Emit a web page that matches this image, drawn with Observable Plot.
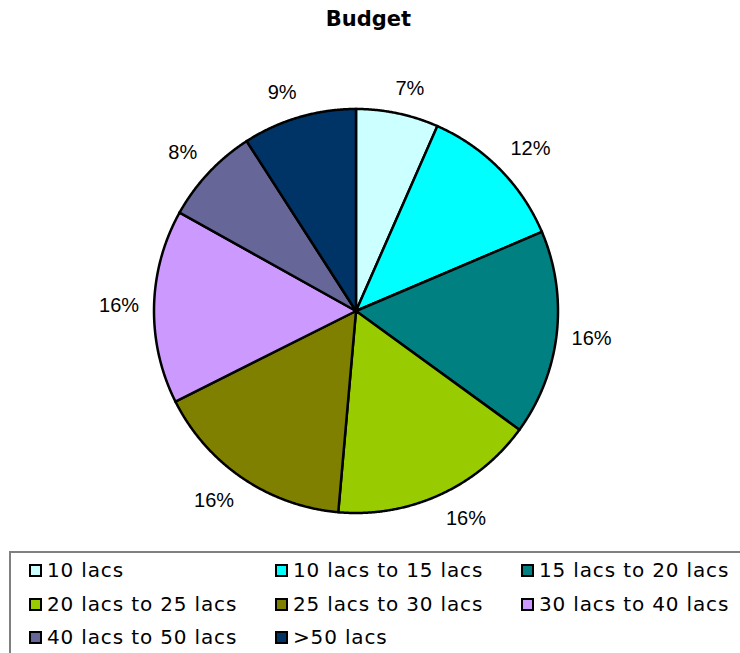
<!DOCTYPE html>
<html>
<head>
<meta charset="utf-8">
<script src="https://cdn.jsdelivr.net/npm/d3@7"></script>
<script src="https://cdn.jsdelivr.net/npm/@observablehq/plot@0.6"></script>
<style>
  html, body { margin: 0; padding: 0; background: #fff; overflow: hidden; }
  body { width: 740px; height: 653px; position: relative; font-family: "DejaVu Sans", sans-serif; }
  #chart { position: absolute; left: 0; top: 0; }
  #chart g[aria-label="title"] text { letter-spacing: 0.5px; }
  #legend {
    position: absolute; left: 9px; top: 551px; width: 760px; height: 120px;
    border: 2px solid #808080; box-sizing: border-box;
  }
  .item { position: absolute; display: flex; align-items: center; font-size: 20px; color: #000;
          white-space: nowrap; letter-spacing: 0.85px; }
  .sw { width: 13px; height: 13px; border: 2px solid #000; box-sizing: border-box; margin-right: 5px; }
</style>
</head>
<body>
<div id="chart"></div>
<div id="legend"></div>
<script>
const title = "Budget";
const categories = ["10 lacs", "10 lacs to 15 lacs", "15 lacs to 20 lacs", "20 lacs to 25 lacs",
                    "25 lacs to 30 lacs", "30 lacs to 40 lacs", "40 lacs to 50 lacs", ">50 lacs"];
const values = [6.6, 12.0, 16.4, 16.4, 16.2, 15.5, 7.8, 9.1];
const labels = ["7%", "12%", "16%", "16%", "16%", "16%", "8%", "9%"];
const colors = ["#CCFFFF", "#00FFFF", "#008080", "#99CC00", "#808000", "#CC99FF", "#666699", "#003366"];

const pie = d3.pie().sort(null).value(d => d.value);
const table = categories.map((c, i) => ({category: c, value: values[i], label: labels[i]}));
const arcs = pie(table);

const cx = 355.5, cy = 310.5, R = 202;

// polygon outline for each slice (unit-circle coordinates, clockwise from top)
const outline = [];
arcs.forEach(a => {
  const n = Math.max(2, Math.ceil((a.endAngle - a.startAngle) / 0.005));
  outline.push({category: a.data.category, x: 0, y: 0});
  for (let k = 0; k <= n; k++) {
    const t = a.startAngle + (a.endAngle - a.startAngle) * k / n;
    outline.push({category: a.data.category, x: Math.sin(t), y: Math.cos(t)});
  }
  outline.push({category: a.data.category, x: 0, y: 0});
});

// outside labels: anchor point just beyond the rim, then shifted by half the label box
const gap = 15, boxH = 20;
const labelPts = arcs.map(a => {
  const m = (a.startAngle + a.endAngle) / 2;
  const s = Math.sin(m), c = Math.cos(m);
  const w = a.data.label.length === 2 ? 30 : 40;
  const ox = (w / 2) * Math.max(-1, Math.min(1, 3 * s));
  const oy = (boxH / 2) * Math.max(-1, Math.min(1, 3 * c));
  return {
    label: a.data.label,
    x: ((R + gap) * s + ox) / R,
    y: ((R + gap) * c + oy) / R
  };
});

const chart = Plot.plot({
  width: 740,
  height: 548,
  margin: 0,
  x: {domain: [-1, 1], range: [cx - R, cx + R], axis: null},
  y: {domain: [-1, 1], range: [cy + R, cy - R], axis: null},
  color: {domain: categories, range: colors},
  style: {fontFamily: "'Liberation Sans', Arial, sans-serif", background: "#fff"},
  marks: [
    Plot.line(outline, {x: "x", y: "y", z: "category", fill: "category", stroke: "#000",
                        strokeWidth: 2.5, strokeLinejoin: "miter", strokeMiterlimit: 4, curve: "linear"}),
    Plot.text(labelPts, {x: "x", y: "y", text: "label", fontSize: 20, fill: "#000"}),
    Plot.text([title], {frameAnchor: "top", lineAnchor: "middle", dy: 18.5, dx: -2, fontSize: 21,
                        fontWeight: "bold", fill: "#000", ariaLabel: "title",
                        fontFamily: "'DejaVu Sans', sans-serif"})
  ]
});
document.getElementById("chart").appendChild(chart);

// legend (HTML, below the chart)
const legend = document.getElementById("legend");
const colX = [18, 264, 510];
const rowY = [5, 39, 72];
categories.forEach((c, i) => {
  const el = document.createElement("div");
  el.className = "item";
  el.style.left = colX[i % 3] + "px";
  el.style.top = rowY[Math.floor(i / 3)] + "px";
  const sw = document.createElement("div");
  sw.className = "sw";
  sw.style.background = colors[i];
  const tx = document.createElement("span");
  tx.textContent = c;
  el.appendChild(sw);
  el.appendChild(tx);
  legend.appendChild(el);
});
</script>
</body>
</html>
